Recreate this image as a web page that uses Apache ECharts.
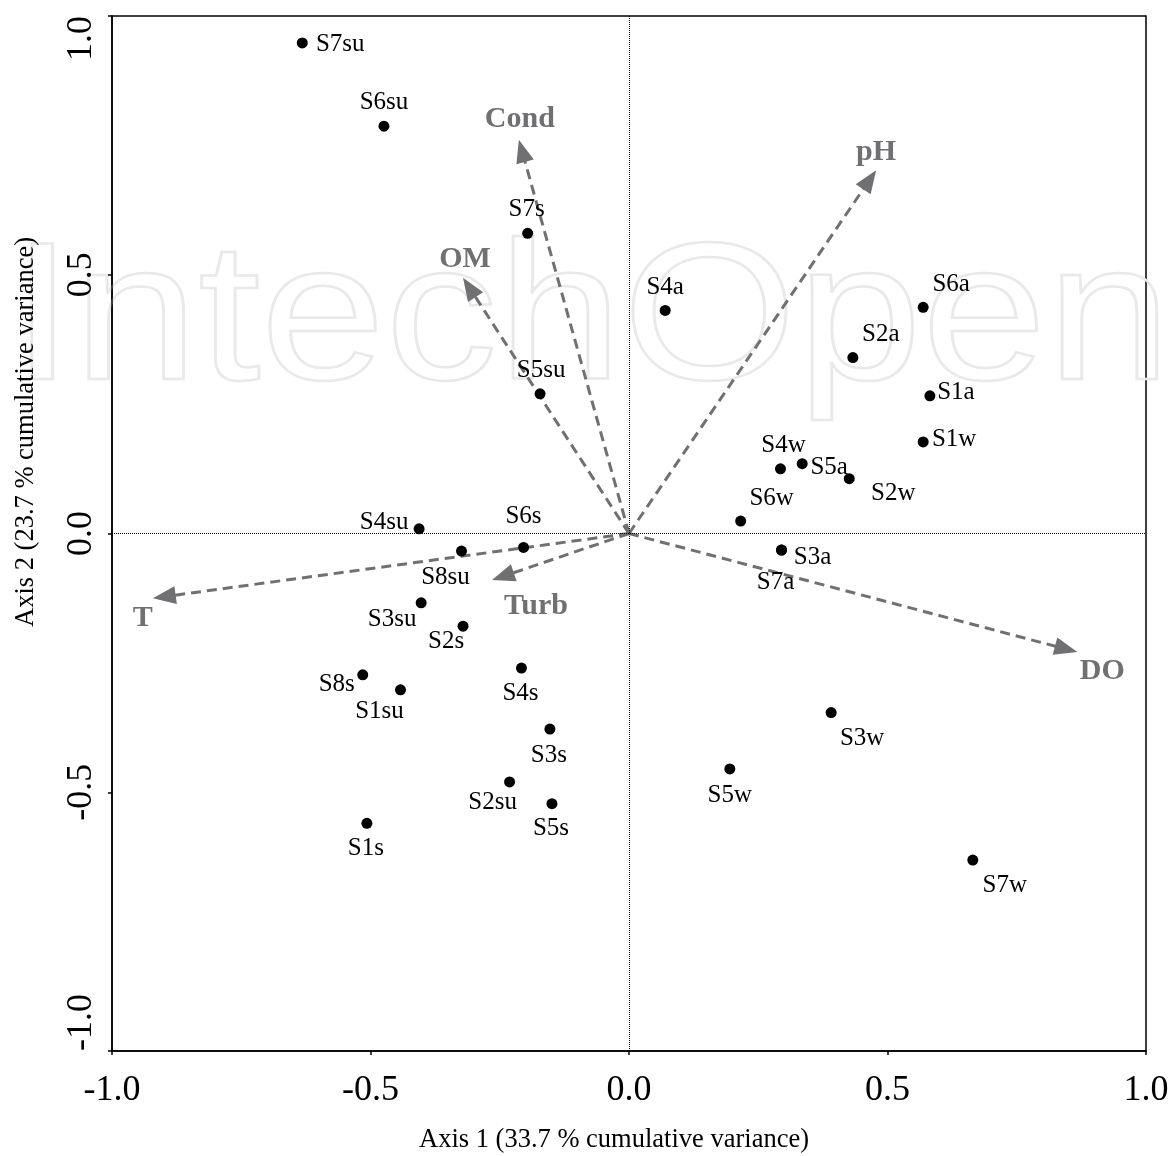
<!DOCTYPE html>
<html>
<head>
<meta charset="utf-8">
<script src="https://cdn.jsdelivr.net/npm/echarts@6/dist/echarts.min.js"></script>
<style>html,body{margin:0;padding:0;background:#fff}#c{width:1176px;height:1156px}</style>
</head>
<body>
<div id="c"></div>
<script>
// ---- data ----
const sampleNames = ['S7su','S6su','S7s','S4a','S6a','S2a','S1a','S1w','S5su','S4w','S5a','S2w','S6w','S3a','S7a','S4su','S6s','S8su','S3su','S2s','S8s','S1su','S4s','S3s','S2su','S5s','S1s','S5w','S3w','S7w'];
const axis1Scores = [-0.632,-0.474,-0.196,0.070,0.569,0.433,0.582,0.569,-0.172,0.293,0.335,0.426,0.216,0.295,0.295,-0.406,-0.204,-0.324,-0.402,-0.321,-0.515,-0.442,-0.208,-0.153,-0.231,-0.149,-0.507,0.195,0.391,0.665];
const axis2Scores = [0.948,0.787,0.580,0.431,0.437,0.340,0.266,0.177,0.270,0.125,0.135,0.106,0.024,-0.032,-0.032,0.009,-0.027,-0.034,-0.134,-0.179,-0.273,-0.302,-0.260,-0.378,-0.480,-0.522,-0.560,-0.455,-0.346,-0.631];

const variableNames = ['Cond','pH','OM','T','Turb','DO'];
const variableAxis1 = [-0.213,0.478,-0.321,-0.921,-0.265,0.867];
const variableAxis2 = [0.761,0.702,0.494,-0.125,-0.090,-0.229];

const tickValues = [-1.0,-0.5,0.0,0.5,1.0];
const xTitle = 'Axis 1 (33.7 % cumulative variance)';
const yTitle = 'Axis 2 (23.7 % cumulative variance)';
const watermarkText = 'IntechOpen';

// ---- label placement (style only, pixels) ----
const sampleLabelOffsets = {
  S7su:[38,2], S6su:[0,-24], S7s:[-1,-24], S4a:[0,-23], S6a:[28,-23], S2a:[28,-23],
  S1a:[26,-3], S1w:[31,-2], S5su:[1,-23], S4w:[3,-23], S5a:[27,4], S2w:[44,15],
  S6w:[31,-23], S3a:[31,7], S7a:[-6,32], S4su:[-35,-6], S6s:[0,-31], S8su:[-16,26],
  S3su:[-29,17], S2s:[-17,15], S8s:[-26,10], S1su:[-21,22], S4s:[-1,25], S3s:[-1,26],
  S2su:[-17,21], S5s:[-1,25], S1s:[-1,25], S5w:[0,26], S3w:[31,26], S7w:[32,25]
};
const variableLabelOffsets = { Cond:[1,-20], pH:[0,-18], OM:[2,-19], T:[-10,20], Turb:[44,26], DO:[25,19] };

const SERIF = '"Liberation Serif", "Times New Roman", serif';
const GREY = '#707073';

const scatterData = sampleNames.map((n,i)=>({
  name:n, value:[axis1Scores[i], axis2Scores[i]],
  label:{offset: sampleLabelOffsets[n]}
}));
const arrowData = variableNames.map((n,i)=>[variableAxis1[i], variableAxis2[i]]);

const chart = echarts.init(document.getElementById('c'), null, {renderer:'canvas'});

const axisCommon = {
  type:'value', min:-1, max:1, interval:0.5,
  splitLine:{show:false},
  axisLine:{show:true, onZero:false, lineStyle:{color:'#000', width:1.5}},
  axisTick:{show:true, inside:false, length:4, lineStyle:{color:'#000', width:1.5}}
};
const fmt = v => tickValues.includes(+v.toFixed(1)) ? v.toFixed(1) : '';

chart.setOption({
  animation:false,
  backgroundColor:'#fff',
  graphic:[
    {
      type:'text', z:0, silent:true,
      x:11, y:423, scaleX:1.145, scaleY:1,
      style:{text:watermarkText, font:'196px "Liberation Sans", sans-serif', fill:'none', stroke:'#e9e9e9', lineWidth:2.5, verticalAlign:'bottom'}
    },
    {
      type:'text', z:5, silent:true, x:614, y:1140,
      style:{text:xTitle, font:'26.5px '+SERIF, fill:'#000', align:'center', verticalAlign:'middle'}
    },
    {
      type:'text', z:5, silent:true, x:26, y:432, rotation:Math.PI/2,
      style:{text:yTitle, font:'26.5px '+SERIF, fill:'#000', align:'center', verticalAlign:'middle'}
    }
  ],
  grid:{left:112, right:30, top:16, bottom:105, show:true, borderColor:'#000', borderWidth:1.5, backgroundColor:'transparent'},
  xAxis:Object.assign({}, axisCommon, {
    axisLabel:{fontFamily:SERIF, fontSize:36, color:'#000', margin:22, formatter:fmt}
  }),
  yAxis:Object.assign({}, axisCommon, {
    axisLabel:{fontFamily:SERIF, fontSize:36, color:'#000', margin:12, rotate:90,
      alignMinLabel:'left', alignMaxLabel:'right', formatter:fmt}
  }),
  series:[
    {
      type:'custom', z:3,
      data:arrowData,
      renderItem:function(params, api){
        const idx = params.dataIndex;
        const name = variableNames[idx];
        const s = api.coord([0,0]);
        const e = api.coord([api.value(0), api.value(1)]);
        const dx = e[0]-s[0], dy = e[1]-s[1];
        const L = Math.sqrt(dx*dx+dy*dy);
        const ux = dx/L, uy = dy/L, nx = -uy, ny = ux;
        const head = 23, hw = 9;
        const bx = e[0]-ux*head, by = e[1]-uy*head;
        const off = variableLabelOffsets[name];
        return {type:'group', children:[
          {type:'line', shape:{x1:s[0], y1:s[1], x2:bx+ux*2, y2:by+uy*2},
           style:{stroke:GREY, lineWidth:3, lineDash:[10,6], fill:null}},
          {type:'polygon', shape:{points:[[e[0],e[1]],[bx+nx*hw, by+ny*hw],[bx-nx*hw, by-ny*hw]]},
           style:{fill:GREY}},
          {type:'text', x:e[0]+off[0], y:e[1]+off[1],
           style:{text:name, font:'bold 30px '+SERIF, fill:GREY, align:'center', verticalAlign:'middle'}}
        ]};
      }
    },
    {
      type:'scatter', z:4,
      symbol:'circle', symbolSize:11,
      itemStyle:{color:'#000', opacity:1},
      emphasis:{disabled:true},
      data:scatterData,
      label:{show:true, position:'inside', formatter:'{b}', fontFamily:SERIF, fontSize:25, color:'#000', opacity:1},
      markLine:{
        silent:true, symbol:['none','none'], label:{show:false},
        lineStyle:{type:'dotted', color:'#000', width:1, opacity:1},
        emphasis:{disabled:true},
        data:[{xAxis:0},{yAxis:0}]
      }
    }
  ]
});
</script>
</body>
</html>
